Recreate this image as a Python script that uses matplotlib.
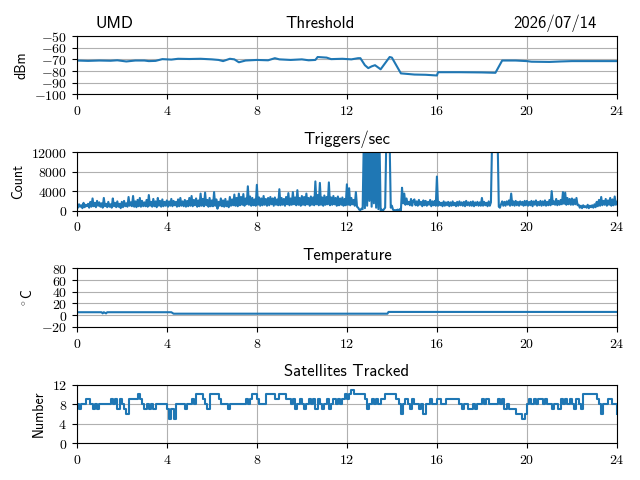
import numpy as np
import matplotlib
matplotlib.use("Agg")
import matplotlib.pyplot as plt
from matplotlib.ticker import FuncFormatter, MultipleLocator

plt.rcParams['font.family'] = ['cmss10', 'DejaVu Sans']
plt.rcParams['mathtext.fontset'] = 'cm'
plt.rcParams['axes.unicode_minus'] = False

# ---- data ----
site = "UMD"
date_label = "2026/07/14"

thr_hours = [0, 0.5, 1, 1.5, 1.8, 2.2, 2.6, 3, 3.2, 3.5, 3.8, 4.2, 4.5, 5, 5.5, 6, 6.3, 6.5,
             6.8, 7.0, 7.2, 7.5, 8, 8.5, 8.8, 9, 9.5, 10, 10.3, 10.6, 10.7, 11.1, 11.3, 11.8,
             12.2, 12.5, 12.6, 12.8, 12.95, 13.1, 13.25, 13.5, 13.9, 14.0, 14.4, 15, 15.5, 16,
             16.05, 17, 18, 18.6, 18.9, 19.5, 20, 20.2, 21, 21.5, 22, 23, 24]
thr_dbm = [-71, -71.3, -71, -71.2, -70.8, -71.8, -71, -71, -71.5, -71.3, -69.8, -70.2, -69.5,
           -69.7, -69.5, -70, -70.5, -71.5, -69.5, -70, -72.5, -71, -70.5, -70.8, -69, -70,
           -70.5, -70, -70.8, -70.5, -68, -68.5, -69.8, -69.5, -70, -69, -69, -75, -77.5, -76,
           -75, -78.5, -68, -68.5, -82, -83, -83.2, -83.8, -81, -81, -81.2, -81.5, -71, -71,
           -71.5, -72, -72.2, -71.8, -71.5, -71.5, -71.5]

# triggers per second, one value every 0.05 h (20 per hour row)
trig_counts = [
    1500, 600, 1300, 800, 1100, 500, 1600, 700, 1200, 900, 1400, 600, 1800, 800, 2500, 900, 1600, 700, 2000, 1000,
    1700, 800, 1500, 600, 2600, 900, 1400, 700, 1800, 800, 1300, 600, 2500, 900, 1600, 700, 1900, 800, 1400, 500,
    1800, 700, 2000, 900, 1500, 800, 2800, 1000, 1700, 900, 3000, 800, 1900, 700, 2200, 900, 2600, 800, 2000, 900,
    1700, 900, 2200, 800, 3200, 1000, 1800, 800, 2400, 900, 1900, 700, 2600, 1000, 2000, 800, 2300, 900, 1800, 1000,
    2100, 800, 1900, 1000, 2400, 900, 2000, 1100, 1800, 800, 2300, 900, 2600, 1000, 1900, 900, 2200, 800, 2000, 900,
    2600, 1000, 3000, 900, 2200, 1100, 2500, 800, 2100, 900, 3500, 1000, 2400, 900, 3700, 1100, 2200, 800, 2600, 900,
    2100, 900, 3800, 1000, 2300, 400, 1800, 1000, 2500, 900, 2100, 800, 2400, 900, 1900, 700, 2800, 1000, 2300, 1100,
    3300, 1000, 2600, 900, 3500, 1100, 2800, 1200, 3400, 1000, 2500, 1300, 5000, 1200, 2900, 1000, 2600, 1100, 2300, 1000,
    5300, 1200, 2700, 1000, 2500, 1100, 3000, 1200, 2400, 1000, 2600, 1100, 2800, 1300, 2500, 1000, 2700, 1200, 2300, 1100,
    4400, 1100, 2600, 1200, 2400, 1000, 2800, 1300, 3600, 1100, 2500, 1200, 3800, 1300, 2700, 1100, 4200, 1200, 2600, 1000,
    3000, 1200, 2800, 1100, 3500, 1300, 2600, 1000, 2900, 1200, 2700, 1100, 6000, 1300, 3200, 1100, 5700, 1200, 2700, 1000,
    3100, 1200, 2800, 1300, 5800, 1100, 2700, 1200, 3000, 1300, 2600, 1000, 2900, 1100, 2500, 1200, 2700, 1000, 2400, 1100,
    5400, 1200, 4600, 1100, 2600, 1300, 2200, 1000, 3800, 800, 600, 200, 100, 400, 300, 14000, 500, 14000, 1000, 14000,
    2000, 14000, 800, 14000, 1500, 14000, 600, 14000, 300, 14000, 0, 200, 0, 300, 600, 14000, 14000, 14000, 14000, 600,
    1000, 200, 0, 100, 0, 200, 0, 300, 0, 4700, 1500, 3500, 1200, 2500, 1300, 1800, 1100, 2400, 1000, 2000,
    2300, 1100, 1900, 1000, 2200, 1200, 1800, 900, 2100, 1100, 2000, 1000, 1800, 1200, 2200, 900, 1900, 1100, 2000, 1000,
    7000, 1000, 1800, 1100, 1600, 900, 1900, 1000, 1700, 1100, 1800, 900, 1700, 1000, 1900, 1100, 1600, 900, 1800, 1000,
    1900, 1100, 1700, 1000, 1800, 900, 2000, 1100, 1700, 1000, 1800, 1000, 1900, 900, 1700, 1100, 1800, 1000, 1700, 1000,
    2600, 1000, 1800, 1100, 1600, 900, 1900, 1000, 1700, 14000, 14000, 14000, 14000, 14000, 14000, 800, 600, 1300, 1900, 1000,
    1800, 1000, 1900, 1200, 2100, 1000, 3500, 1100, 1900, 1000, 2000, 1100, 1800, 1000, 1900, 1200, 1800, 1000, 2000, 1100,
    2000, 1000, 1800, 1100, 2000, 900, 1900, 1200, 2100, 1000, 1800, 1100, 2000, 1000, 1900, 1100, 2100, 1000, 1800, 1100,
    2200, 1100, 4000, 1300, 1900, 1200, 2400, 1100, 2000, 1200, 2200, 1300, 3800, 1400, 3700, 1200, 2600, 1300, 2400, 1200,
    2500, 1200, 2300, 1300, 2600, 1100, 1200, 600, 1000, 500, 1100, 700, 900, 600, 1200, 500, 1000, 700, 1100, 600,
    1300, 700, 1800, 900, 2200, 1000, 2800, 1100, 2000, 1200, 2400, 1000, 2100, 1200, 2600, 1000, 2300, 1100, 2900, 1200,
    1800]
trig_hours = np.arange(len(trig_counts)) * 0.05

temp_hours = [0, 1.1, 1.15, 1.2, 1.3, 1.35, 4.2, 4.3, 13.8, 13.85, 24]
temp_c = [5, 5, 3, 5, 3, 5, 5, 2.5, 2.5, 5.5, 5.5]

sat_counts = [
    8, 7, 8, 8, 9, 9, 8, 7, 8, 7,
    8, 8, 8, 8, 8, 9, 8, 9, 7, 9,
    8, 7, 6, 9, 9, 9, 9, 10, 9, 8,
    7, 8, 7, 8, 7, 8, 8, 8, 8, 8,
    7, 5, 7, 5, 8, 8, 8, 8, 7, 8,
    8, 9, 8, 10, 10, 10, 9, 8, 7, 10,
    10, 10, 10, 9, 8, 8, 8, 7, 8, 8,
    8, 8, 8, 8, 8, 9, 8, 9, 10, 10,
    9, 8, 8, 8, 10, 10, 10, 10, 9, 9,
    10, 10, 10, 9, 9, 8, 9, 7, 8, 9,
    8, 7, 8, 9, 8, 9, 7, 9, 8, 7,
    8, 9, 7, 8, 9, 8, 9, 8, 9, 10,
    9, 10, 11, 10, 10, 10, 10, 10, 9, 7,
    8, 9, 8, 9, 8, 9, 9, 10, 10, 10,
    10, 10, 9, 8, 6, 8, 9, 8, 7, 9,
    8, 8, 7, 8, 6, 8, 8, 9, 8, 8,
    9, 9, 8, 8, 9, 9, 9, 9, 9, 9,
    8, 7, 8, 8, 7, 7, 8, 7, 8, 8,
    9, 8, 9, 8, 8, 8, 8, 9, 8, 9,
    7, 8, 7, 7, 7, 6, 6, 6, 5, 6,
    8, 9, 8, 9, 8, 9, 9, 8, 9, 8,
    8, 7, 8, 8, 7, 9, 8, 9, 8, 9,
    8, 7, 9, 8, 7, 10, 10, 10, 10, 10,
    10, 9, 8, 6, 8, 8, 9, 9, 8, 8,
    6]
sat_hours = np.arange(len(sat_counts)) * 0.1

hour_ticks = [0, 4, 8, 12, 16, 20, 24]

# ---- plot ----
fig, axes = plt.subplots(4, 1, figsize=(6.4, 4.8), dpi=100)
fig.subplots_adjust(left=0.120, right=0.964, top=0.925, bottom=0.077, hspace=0.99)

fmt = FuncFormatter(lambda v, p: r'$%d$' % int(round(v)) if v >= 0 else r'$-%d$' % int(round(-v)))

specs = [
    (thr_hours, thr_dbm, "Threshold", "dBm", (-100, -50), 10),
    (trig_hours, trig_counts, "Triggers/sec", "Count", (0, 12000), 4000),
    (temp_hours, temp_c, "Temperature", r"$^\circ$C", (-20, 80), 20),
    (sat_hours, sat_counts, "Satellites Tracked", "Number", (0, 12), 4),
]

for i, (ax, (x, y, title, ylab, ylim, step)) in enumerate(zip(axes, specs)):
    if title == "Satellites Tracked":
        ax.plot(x, y, color='#1f77b4', lw=1.5, drawstyle='steps-post')
    else:
        ax.plot(x, y, color='#1f77b4', lw=1.5)
    ax.set_xlim(0, 24)
    ax.set_ylim(*ylim)
    ax.set_xticks(hour_ticks)
    ax.yaxis.set_major_locator(MultipleLocator(step))
    ax.xaxis.set_major_formatter(fmt)
    ax.yaxis.set_major_formatter(fmt)
    ax.grid(True)
    if i == 0:
        ax.set_title(title, x=0.45)
    else:
        ax.set_title(title)
    ax.set_ylabel(ylab)

axes[0].annotate(site, xy=(0.069, 1.0), xycoords='axes fraction', xytext=(0, 6),
                 textcoords='offset points', ha='center', va='baseline', fontsize=12)
axes[0].annotate(date_label, xy=(0.885, 1.0), xycoords='axes fraction', xytext=(0, 6),
                 textcoords='offset points', ha='center', va='baseline', fontsize=12)

fig.savefig("out.png", dpi=100)
